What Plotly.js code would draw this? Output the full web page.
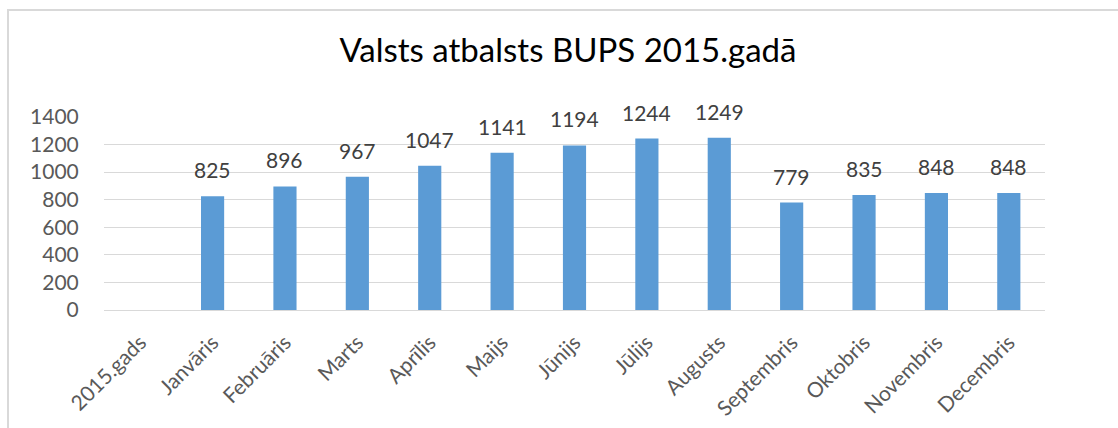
<!DOCTYPE html>
<html>
<head>
<meta charset="utf-8">
<script src="https://cdn.plot.ly/plotly-3.0.1.min.js"></script>
<style>
html,body{margin:0;padding:0;background:#fff;}
#wrap{position:relative;width:1118px;height:428px;}
#chart{width:1118px;height:428px;}
#frame{position:absolute;left:7px;top:9px;right:-5px;bottom:-5px;border-left:2px solid #d9d9d9;border-top:2px solid #d9d9d9;pointer-events:none;}
</style>
</head>
<body>
<div id="wrap"><div id="chart"></div><div id="frame"></div></div>
<script>
const categories = ["2015.gads","Janvāris","Februāris","Marts","Aprīlis","Maijs","Jūnijs","Jūlijs","Augusts","Septembris","Oktobris","Novembris","Decembris"];
const values = [null,825,896,967,1047,1141,1194,1244,1249,779,835,848,848];
const titleText = "Valsts atbalsts BUPS 2015.gadā";
const yTicks = [0,200,400,600,800,1000,1200,1400];

const font = "Lato, 'Open Sans', sans-serif";

const annotations = [];
categories.forEach((c,i)=>{
  if(values[i]!==null){
    annotations.push({x:c,y:values[i],xref:'x',yref:'y',text:String(values[i]),showarrow:false,yanchor:'bottom',yshift:12,font:{family:font,size:21,color:'#404040'}});
  }
});

const trace = {type:'bar',x:categories,y:values,marker:{color:'#5B9BD5'},width:0.32,hoverinfo:'none'};

const layout = {
  width:1118,height:428,
  margin:{l:104,r:73,t:117,b:118,pad:0},
  paper_bgcolor:'#ffffff',plot_bgcolor:'#ffffff',
  title:{text:titleText,font:{family:font,size:33,color:'#000000'},x:0.508,xanchor:'center',y:0.883,yanchor:'middle'},
  showlegend:false,
  xaxis:{type:'category',tickangle:-45,tickfont:{family:font,size:21,color:'#595959'},showgrid:false,zeroline:false,showline:true,linecolor:'#d9d9d9',linewidth:1,ticks:'outside',ticklen:11,tickcolor:'rgba(0,0,0,0)',range:[-0.5,12.5]},
  yaxis:{range:[0,1400],tickvals:yTicks,tickfont:{family:font,size:21,color:'#595959'},showgrid:true,gridcolor:'#d9d9d9',gridwidth:1,zeroline:false,showline:false,ticks:'outside',ticklen:20,tickcolor:'rgba(0,0,0,0)'},
  annotations:annotations
};
Plotly.newPlot('chart',[trace],layout,{staticPlot:true,displayModeBar:false});
</script>
</body>
</html>
